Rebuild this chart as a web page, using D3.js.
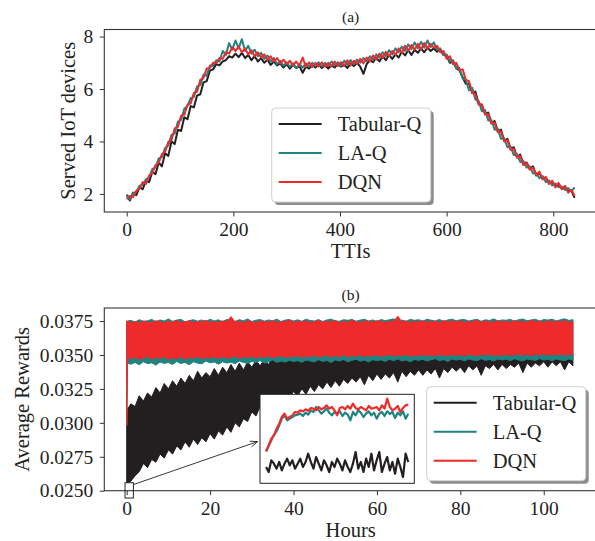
<!DOCTYPE html>
<html><head><meta charset="utf-8">
<script src="https://cdn.jsdelivr.net/npm/d3@7"></script>
<style>
body{margin:0;background:#fff}
svg text{font-family:"Liberation Serif","Times New Roman",serif;fill:#222}
</style>
</head><body>
<svg id="c" width="595" height="541"></svg>
<script>
// ---------------- DATA ----------------
const seriesNames = ["Tabular-Q", "LA-Q", "DQN"];
const seriesColors = ["#231f20", "#1f8382", "#ee2a2a"];

// Panel (a): served IoT devices, sampled every 6 TTIs (0..840)
const tti = d3.range(0, 841, 6);
const tabularA = [
 1.95,1.75,2.05,1.95,2.25,2.18,2.50,2.45,2.85,2.75,
 3.20,3.05,3.55,3.45,4.00,3.90,4.45,4.40,4.92,4.85,
 5.35,5.30,5.75,5.80,6.25,6.30,6.70,6.75,6.95,6.90,
 7.05,7.10,7.25,7.20,7.35,7.22,7.38,7.18,7.30,7.10,
 7.25,7.05,7.18,7.00,7.12,6.92,7.05,6.90,6.98,6.82,
 6.95,6.78,6.92,6.80,6.88,6.62,6.85,6.78,6.90,6.82,
 6.95,6.80,6.92,6.78,6.90,6.82,6.95,6.85,6.92,6.80,
 6.98,6.88,7.00,6.85,6.58,6.95,7.10,7.02,7.20,7.05,
 7.25,7.10,7.30,7.15,7.32,7.20,7.42,7.28,7.48,7.30,
 7.50,7.38,7.55,7.40,7.58,7.45,7.55,7.42,7.50,7.30,
 7.28,7.00,7.05,6.80,6.72,6.45,6.20,6.20,5.85,5.90,
 5.45,5.38,5.08,5.10,4.70,4.78,4.38,4.45,4.02,4.10,
 3.72,3.78,3.40,3.50,3.15,3.20,2.95,3.05,2.70,2.80,
 2.58,2.62,2.40,2.45,2.32,2.35,2.20,2.28,2.10,2.12,
 1.85];
const laqA = [
 1.98,1.80,2.02,2.08,2.30,2.35,2.55,2.62,2.95,3.00,
 3.35,3.40,3.75,3.85,4.25,4.30,4.75,4.82,5.25,5.35,
 5.65,5.70,6.10,6.15,6.55,6.50,6.90,6.88,7.10,7.05,
 7.45,7.30,7.75,7.50,7.85,7.55,7.90,7.45,7.65,7.35,
 7.50,7.25,7.38,7.15,7.28,7.05,7.18,6.95,7.08,6.88,
 7.02,6.85,6.98,6.80,6.95,6.82,6.98,6.85,7.00,6.88,
 7.02,6.86,7.00,6.88,7.05,6.90,7.02,6.88,7.08,6.92,
 7.10,6.95,7.12,7.00,7.18,7.05,7.25,7.10,7.32,7.20,
 7.40,7.25,7.48,7.32,7.55,7.40,7.62,7.45,7.70,7.52,
 7.78,7.55,7.80,7.58,7.85,7.60,7.78,7.50,7.55,7.30,
 7.32,7.05,7.10,6.78,6.80,6.40,6.35,5.95,6.05,5.60,
 5.55,5.15,5.20,4.80,4.82,4.45,4.48,4.10,4.12,3.78,
 3.80,3.48,3.52,3.22,3.25,3.00,3.05,2.78,2.80,2.60,
 2.68,2.45,2.52,2.32,2.40,2.25,2.28,2.15,2.22,2.10,
 2.25];
const dqnA = [
 1.80,1.92,1.88,2.12,2.20,2.45,2.38,2.70,2.78,3.10,
 3.18,3.52,3.60,3.98,4.05,4.50,4.55,4.98,5.02,5.40,
 5.45,5.85,5.90,6.35,6.42,6.78,6.80,7.00,6.98,7.18,
 7.15,7.40,7.35,7.60,7.45,7.62,7.40,7.55,7.32,7.48,
 7.25,7.40,7.20,7.32,7.10,7.25,7.05,7.18,6.98,7.12,
 6.95,7.08,6.90,7.05,6.88,7.20,6.85,7.02,6.84,7.00,
 6.86,7.02,6.85,7.00,6.86,7.05,6.88,7.03,6.88,7.10,
 6.90,7.08,6.95,7.15,6.98,7.20,7.05,7.28,7.12,7.35,
 7.18,7.42,7.25,7.45,7.30,7.55,7.38,7.65,7.45,7.68,
 7.50,7.72,7.52,7.75,7.55,7.72,7.58,7.65,7.40,7.45,
 7.15,7.25,6.95,7.00,6.72,6.75,6.35,6.30,5.85,5.80,
 5.40,5.42,5.02,5.05,4.68,4.72,4.35,4.38,4.00,4.05,
 3.68,3.72,3.38,3.45,3.10,3.18,2.92,3.00,2.72,2.85,
 2.55,2.65,2.38,2.50,2.25,2.42,2.18,2.30,2.05,2.15,
 1.92];
const xTicksA = [0, 200, 400, 600, 800];
const yTicksA = [2, 4, 6, 8];

// Panel (b): average rewards, per-hour band (min / max of the dense trace)
const hours = [0, 0.2].concat(d3.range(1, 108));
const tabularLo = [
 0.0256,0.0256,
 0.0257,0.0261,0.0264,0.0270,0.0267,0.0273,0.0271,0.0277,0.0274,0.0280,
 0.0277,0.0283,0.0280,0.0286,0.0282,0.0288,0.0284,0.0289,0.0286,0.0292,
 0.0288,0.0294,0.0291,0.0297,0.0293,0.0300,0.0297,0.0303,0.0301,0.0308,
 0.0305,0.0312,0.0309,0.0315,0.0312,0.0318,0.0315,0.0321,0.0318,0.0323,
 0.0320,0.0325,0.0321,0.0327,0.0323,0.0328,0.0325,0.0330,0.0326,0.0331,
 0.0327,0.0332,0.0329,0.0333,0.0330,0.0334,0.0328,0.0335,0.0331,0.0336,
 0.0332,0.0336,0.0333,0.0337,0.0330,0.0338,0.0334,0.0338,0.0335,0.0339,
 0.0335,0.0339,0.0336,0.0340,0.0333,0.0340,0.0337,0.0341,0.0338,0.0341,
 0.0337,0.0342,0.0339,0.0342,0.0335,0.0342,0.0340,0.0343,0.0339,0.0343,
 0.0340,0.0343,0.0341,0.0344,0.0337,0.0344,0.0341,0.0344,0.0342,0.0345,
 0.0341,0.0345,0.0342,0.0345,0.0339,0.0345,0.0342];
const tabularHi = [
 0.0300,0.0310,
 0.0314,0.0312,0.0320,0.0316,0.0322,0.0319,0.0326,0.0322,0.0329,0.0325,
 0.0331,0.0327,0.0333,0.0329,0.0335,0.0331,0.0338,0.0333,0.0337,0.0334,
 0.0340,0.0335,0.0341,0.0337,0.0343,0.0338,0.0344,0.0339,0.0345,0.0341,
 0.0346,0.0342,0.0347,0.0343,0.0348,0.0344,0.0348,0.0345,0.0349,0.0346,
 0.0348,0.0347,0.0348,0.0349,0.0347,0.0348,0.0349,0.0348,0.0347,0.0349,
 0.0348,0.0349,0.0348,0.0350,0.0348,0.0349,0.0348,0.0350,0.0349,0.0348,
 0.0349,0.0350,0.0348,0.0349,0.0350,0.0349,0.0348,0.0350,0.0349,0.0350,
 0.0349,0.0350,0.0349,0.0350,0.0351,0.0349,0.0350,0.0349,0.0351,0.0350,
 0.0350,0.0351,0.0349,0.0350,0.0351,0.0350,0.0349,0.0351,0.0350,0.0351,
 0.0350,0.0351,0.0350,0.0352,0.0350,0.0351,0.0350,0.0351,0.0352,0.0350,
 0.0351,0.0350,0.0352,0.0351,0.0350,0.0352,0.0351];
const laqLo = [
 0.0298,0.0344,
 0.03432,0.03445,0.03428,0.03450,0.03436,0.03442,0.03425,0.03448,0.03438,0.03444,
 0.03430,0.03452,0.03437,0.03445,0.03428,0.03450,0.03440,0.03435,0.03455,0.03442,
 0.03448,0.03432,0.03450,0.03440,0.03446,0.03436,0.03455,0.03444,0.03438,0.03452,
 0.03445,0.03458,0.03440,0.03450,0.03462,0.03446,0.03455,0.03448,0.03460,0.03452,
 0.03458,0.03446,0.03462,0.03455,0.03448,0.03465,0.03452,0.03460,0.03445,0.03463,
 0.03455,0.03466,0.03450,0.03460,0.03468,0.03454,0.03462,0.03448,0.03465,0.03458,
 0.03464,0.03452,0.03468,0.03458,0.03470,0.03456,0.03463,0.03450,0.03467,0.03460,
 0.03468,0.03455,0.03465,0.03472,0.03458,0.03466,0.03452,0.03470,0.03462,0.03468,
 0.03456,0.03470,0.03463,0.03458,0.03472,0.03460,0.03467,0.03455,0.03470,0.03464,
 0.03469,0.03458,0.03472,0.03462,0.03456,0.03470,0.03465,0.03460,0.03473,0.03462,
 0.03468,0.03457,0.03471,0.03463,0.03458,0.03470,0.03462];
const laqHi = [
 0.0374,0.0375,
 0.03755,0.03742,0.03760,0.03748,0.03752,0.03762,0.03745,0.03758,0.03750,0.03765,
 0.03748,0.03757,0.03762,0.03744,0.03753,0.03760,0.03749,0.03758,0.03746,0.03763,
 0.03751,0.03759,0.03745,0.03762,0.03754,0.03748,0.03760,0.03752,0.03765,0.03747,
 0.03756,0.03761,0.03749,0.03758,0.03752,0.03764,0.03746,0.03757,0.03761,0.03750,
 0.03759,0.03748,0.03763,0.03754,0.03750,0.03761,0.03747,0.03758,0.03764,0.03752,
 0.03748,0.03760,0.03755,0.03762,0.03749,0.03757,0.03763,0.03751,0.03758,0.03746,
 0.03761,0.03753,0.03759,0.03766,0.03750,0.03757,0.03748,0.03762,0.03755,0.03760,
 0.03749,0.03763,0.03756,0.03751,0.03762,0.03747,0.03758,0.03764,0.03752,0.03759,
 0.03761,0.03750,0.03757,0.03763,0.03748,0.03759,0.03754,0.03766,0.03751,0.03758,
 0.03756,0.03762,0.03749,0.03760,0.03765,0.03752,0.03758,0.03763,0.03750,0.03761,
 0.03757,0.03764,0.03751,0.03759,0.03766,0.03755,0.03760];
const dqnLo = [
 0.0298,0.0348,
 0.03472,0.03485,0.03468,0.03478,0.03490,0.03470,0.03482,0.03475,0.03488,0.03466,
 0.03480,0.03473,0.03487,0.03469,0.03483,0.03476,0.03490,0.03471,0.03484,0.03478,
 0.03486,0.03474,0.03489,0.03477,0.03483,0.03492,0.03475,0.03487,0.03480,0.03491,
 0.03478,0.03489,0.03484,0.03493,0.03480,0.03488,0.03495,0.03482,0.03490,0.03486,
 0.03494,0.03483,0.03491,0.03487,0.03497,0.03485,0.03492,0.03498,0.03486,0.03494,
 0.03489,0.03499,0.03487,0.03495,0.03491,0.03500,0.03488,0.03496,0.03493,0.03501,
 0.03490,0.03497,0.03502,0.03492,0.03499,0.03495,0.03503,0.03491,0.03498,0.03494,
 0.03502,0.03496,0.03500,0.03493,0.03504,0.03498,0.03495,0.03503,0.03497,0.03501,
 0.03494,0.03505,0.03499,0.03496,0.03503,0.03500,0.03506,0.03495,0.03502,0.03498,
 0.03504,0.03497,0.03501,0.03507,0.03499,0.03503,0.03496,0.03505,0.03500,0.03508,
 0.03498,0.03504,0.03501,0.03506,0.03499,0.03505,0.03502];
const dqnHi = [
 0.03752,0.03748,
 0.03740,0.03746,0.03735,0.03750,0.03742,0.03738,0.03752,0.03744,0.03736,0.03748,
 0.03741,0.03754,0.03737,0.03745,0.03750,0.03739,0.03747,0.03742,0.03755,0.03738,
 0.03746,0.03740,0.03751,0.03744,0.03783,0.03741,0.03749,0.03736,0.03752,0.03743,
 0.03739,0.03750,0.03745,0.03741,0.03753,0.03738,0.03747,0.03744,0.03756,0.03740,
 0.03748,0.03742,0.03751,0.03737,0.03746,0.03754,0.03740,0.03749,0.03743,0.03752,
 0.03738,0.03747,0.03741,0.03755,0.03744,0.03739,0.03750,0.03746,0.03741,0.03753,
 0.03745,0.03740,0.03749,0.03744,0.03786,0.03742,0.03751,0.03738,0.03747,0.03743,
 0.03752,0.03740,0.03748,0.03745,0.03739,0.03754,0.03742,0.03749,0.03744,0.03751,
 0.03738,0.03747,0.03743,0.03756,0.03741,0.03749,0.03745,0.03740,0.03752,0.03744,
 0.03748,0.03739,0.03753,0.03743,0.03747,0.03741,0.03755,0.03744,0.03749,0.03740,
 0.03751,0.03743,0.03748,0.03745,0.03752,0.03741,0.03746];
const xTicksB = [0, 20, 40, 60, 80, 100];
const yTicksB = [0.0250, 0.0275, 0.0300, 0.0325, 0.0350, 0.0375];

// Inset: first steps of training (zoomed)
const insetTabular = [
 0.02761,0.02690,0.02855,0.02808,0.02737,0.02832,0.02713,0.02808,0.02879,0.02784,
 0.02855,0.02737,0.02808,0.02879,0.02761,0.02832,0.02949,0.02832,0.02737,0.02902,
 0.02808,0.02713,0.02855,0.02784,0.02690,0.02832,0.02761,0.02879,0.02808,0.02713,
 0.02855,0.02761,0.02690,0.02808,0.02973,0.02737,0.02832,0.02690,0.02879,0.02761,
 0.02949,0.02713,0.02855,0.02973,0.02690,0.02808,0.02902,0.02713,0.02832,0.02666,
 0.02879,0.02761,0.02619,0.02949,0.02832];
const insetLaq = [
 0.02982,0.03058,0.03138,0.03219,0.03266,0.03351,0.03445,0.03492,0.03422,0.03445,
 0.03469,0.03492,0.03502,0.03516,0.03483,0.03530,0.03502,0.03563,0.03540,0.03610,
 0.03563,0.03516,0.03549,0.03587,0.03530,0.03492,0.03540,0.03516,0.03549,0.03483,
 0.03530,0.03502,0.03422,0.03540,0.03492,0.03563,0.03530,0.03469,0.03516,0.03549,
 0.03492,0.03530,0.03445,0.03516,0.03540,0.03483,0.03549,0.03511,0.03540,0.03455,
 0.03530,0.03492,0.03549,0.03445,0.03516];
const insetDqn = [
 0.02982,0.03067,0.03162,0.03209,0.03303,0.03374,0.03469,0.03516,0.03445,0.03469,
 0.03492,0.03540,0.03530,0.03563,0.03549,0.03577,0.03558,0.03596,0.03587,0.03563,
 0.03610,0.03577,0.03596,0.03634,0.03587,0.03610,0.03563,0.03492,0.03596,0.03610,
 0.03577,0.03624,0.03587,0.03658,0.03596,0.03577,0.03610,0.03587,0.03563,0.03624,
 0.03587,0.03596,0.03610,0.03563,0.03634,0.03587,0.03728,0.03610,0.03563,0.03587,
 0.03624,0.03540,0.03596,0.03634,0.03643];

// ---------------- DRAWING ----------------
const svg = d3.select("#c");
const FONT_TICK = 19.5, FONT_LABEL = 20.5, FONT_TITLE = 15.5;
const SPINE = "#333";

function drawAxes(x, y, xt, yt, yfmt, title, titleY, xlabel, xlabelY, ylabel, ylabelX) {
  const [x0, x1] = x.range();
  const [y0, y1] = y.range(); // y0 bottom, y1 top
  const gx = svg.append("g").attr("transform", `translate(0,${y0})`)
    .call(d3.axisBottom(x).tickValues(xt).tickSize(4.5).tickPadding(6).tickSizeOuter(0));
  const gy = svg.append("g").attr("transform", `translate(${x0},0)`)
    .call(d3.axisLeft(y).tickValues(yt).tickFormat(yfmt).tickSize(4.5).tickPadding(6.5).tickSizeOuter(0));
  [gx, gy].forEach(g => {
    g.select(".domain").remove();
    g.selectAll(".tick line").attr("stroke", SPINE).attr("stroke-width", 1);
    g.selectAll(".tick text").attr("font-size", FONT_TICK).attr("fill", "#222")
      .style("font-family", '"Liberation Serif", serif');
  });
  svg.append("rect").attr("x", x0).attr("y", y1).attr("width", x1 - x0).attr("height", y0 - y1)
    .attr("fill", "none").attr("stroke", SPINE).attr("stroke-width", 1.1);
  const cx = (x0 + x1) / 2;
  svg.append("text").attr("x", cx).attr("y", titleY).attr("text-anchor", "middle")
    .attr("font-size", FONT_TITLE).text(title);
  svg.append("text").attr("x", cx).attr("y", xlabelY).attr("text-anchor", "middle")
    .attr("font-size", FONT_LABEL).text(xlabel);
  svg.append("text").attr("transform", `translate(${ylabelX},${(y0 + y1) / 2}) rotate(-90)`)
    .attr("text-anchor", "middle").attr("font-size", FONT_LABEL).text(ylabel);
}

function drawLegend(bx, by) {
  const w = 159, h = 94;
  const g = svg.append("g").attr("transform", `translate(${bx},${by})`);
  g.append("rect").attr("x", 3).attr("y", 3).attr("width", w).attr("height", h)
    .attr("rx", 4).attr("fill", "#8c8c8c");
  g.append("rect").attr("x", 0).attr("y", 0).attr("width", w).attr("height", h)
    .attr("rx", 4).attr("fill", "#fff").attr("stroke", "#d0d0d0").attr("stroke-width", 1);
  seriesNames.forEach((n, i) => {
    const yy = 16 + i * 29;
    g.append("line").attr("x1", 7).attr("x2", 50).attr("y1", yy).attr("y2", yy)
      .attr("stroke", seriesColors[i]).attr("stroke-width", 2);
    g.append("text").attr("x", 66).attr("y", yy + 7).attr("font-size", FONT_LABEL).text(n);
  });
}

// ---- Panel (a)
const xA = d3.scaleLinear().domain([-42, 882]).range([104.3, 597]);
const yA = d3.scaleLinear().domain([1.31, 8.27]).range([212, 29.5]);
svg.append("clipPath").attr("id", "clipA").append("rect")
  .attr("x", 104.3).attr("y", 29.5).attr("width", 597 - 104.3).attr("height", 212 - 29.5);
const lineA = d3.line().x((d, i) => xA(tti[i])).y(d => yA(d));
const gA = svg.append("g").attr("clip-path", "url(#clipA)");
[tabularA, laqA, dqnA].forEach((s, k) => {
  gA.append("path").attr("d", lineA(s)).attr("fill", "none")
    .attr("stroke", seriesColors[k]).attr("stroke-width", 2).attr("stroke-linejoin", "round");
});
drawAxes(xA, yA, xTicksA, yTicksA, d3.format("d"), "(a)", 22, "TTIs", 258, "Served IoT devices", 75);
drawLegend(271.7, 108);

// ---- Panel (b)
const xB = d3.scaleLinear().domain([-5.37, 112.77]).range([104.3, 597]);
const yB = d3.scaleLinear().domain([0.025, 0.03846]).range([490.7, 308]);
svg.append("clipPath").attr("id", "clipB").append("rect")
  .attr("x", 104.3).attr("y", 308).attr("width", 597 - 104.3).attr("height", 490.7 - 308);
const gB = svg.append("g").attr("clip-path", "url(#clipB)");
const bands = [[tabularLo, tabularHi], [laqLo, laqHi], [dqnLo, dqnHi]];
bands.forEach(([lo, hi], k) => {
  const area = d3.area().x((d, i) => xB(hours[i])).y0((d, i) => yB(lo[i])).y1((d, i) => yB(hi[i]));
  gB.append("path").attr("d", area(hours)).attr("fill", seriesColors[k])
    .attr("stroke", seriesColors[k]).attr("stroke-width", 1).attr("stroke-linejoin", "round");
});
drawAxes(xB, yB, xTicksB, yTicksB, d3.format(".4f"), "(b)", 300, "Hours", 537, "Average Rewards", 29);

// zoom marker rectangle and arrow
svg.append("rect").attr("x", xB(-0.4)).attr("y", yB(0.02559))
  .attr("width", xB(1.6) - xB(-0.4)).attr("height", yB(0.02446) - yB(0.02559))
  .attr("fill", "none").attr("stroke", "#222").attr("stroke-width", 1);
const ax0 = xB(1.6), ay0 = yB(0.02545), ax1 = xB(31.4), ay1 = yB(0.02862);
svg.append("line").attr("x1", ax0).attr("y1", ay0).attr("x2", ax1).attr("y2", ay1)
  .attr("stroke", "#222").attr("stroke-width", 0.9);
{
  const ang = Math.atan2(ay1 - ay0, ax1 - ax0), L = 8, spread = 0.38;
  const p = [ang + Math.PI - spread, ang + Math.PI + spread].map(a => [ax1 + L * Math.cos(a), ay1 + L * Math.sin(a)]);
  svg.append("path").attr("d", `M${p[0][0]},${p[0][1]}L${ax1},${ay1}L${p[1][0]},${p[1][1]}`)
    .attr("fill", "none").attr("stroke", "#222").attr("stroke-width", 0.9);
}

// inset
const xI = d3.scaleLinear().domain([-2.3, 56.3]).range([260, 414.3]);
const yI = d3.scaleLinear().domain([0.0253, 0.0379]).range([483.3, 394.3]);
svg.append("rect").attr("x", 260).attr("y", 394.3).attr("width", 154.3).attr("height", 89)
  .attr("fill", "#fff").attr("stroke", "#222").attr("stroke-width", 1);
const lineI = d3.line().x((d, i) => xI(i)).y(d => yI(d));
[insetTabular, insetLaq, insetDqn].forEach((s, k) => {
  svg.append("path").attr("d", lineI(s)).attr("fill", "none")
    .attr("stroke", seriesColors[k]).attr("stroke-width", 2.2).attr("stroke-linejoin", "round");
});
drawLegend(426.7, 386.7);
</script>
</body></html>
